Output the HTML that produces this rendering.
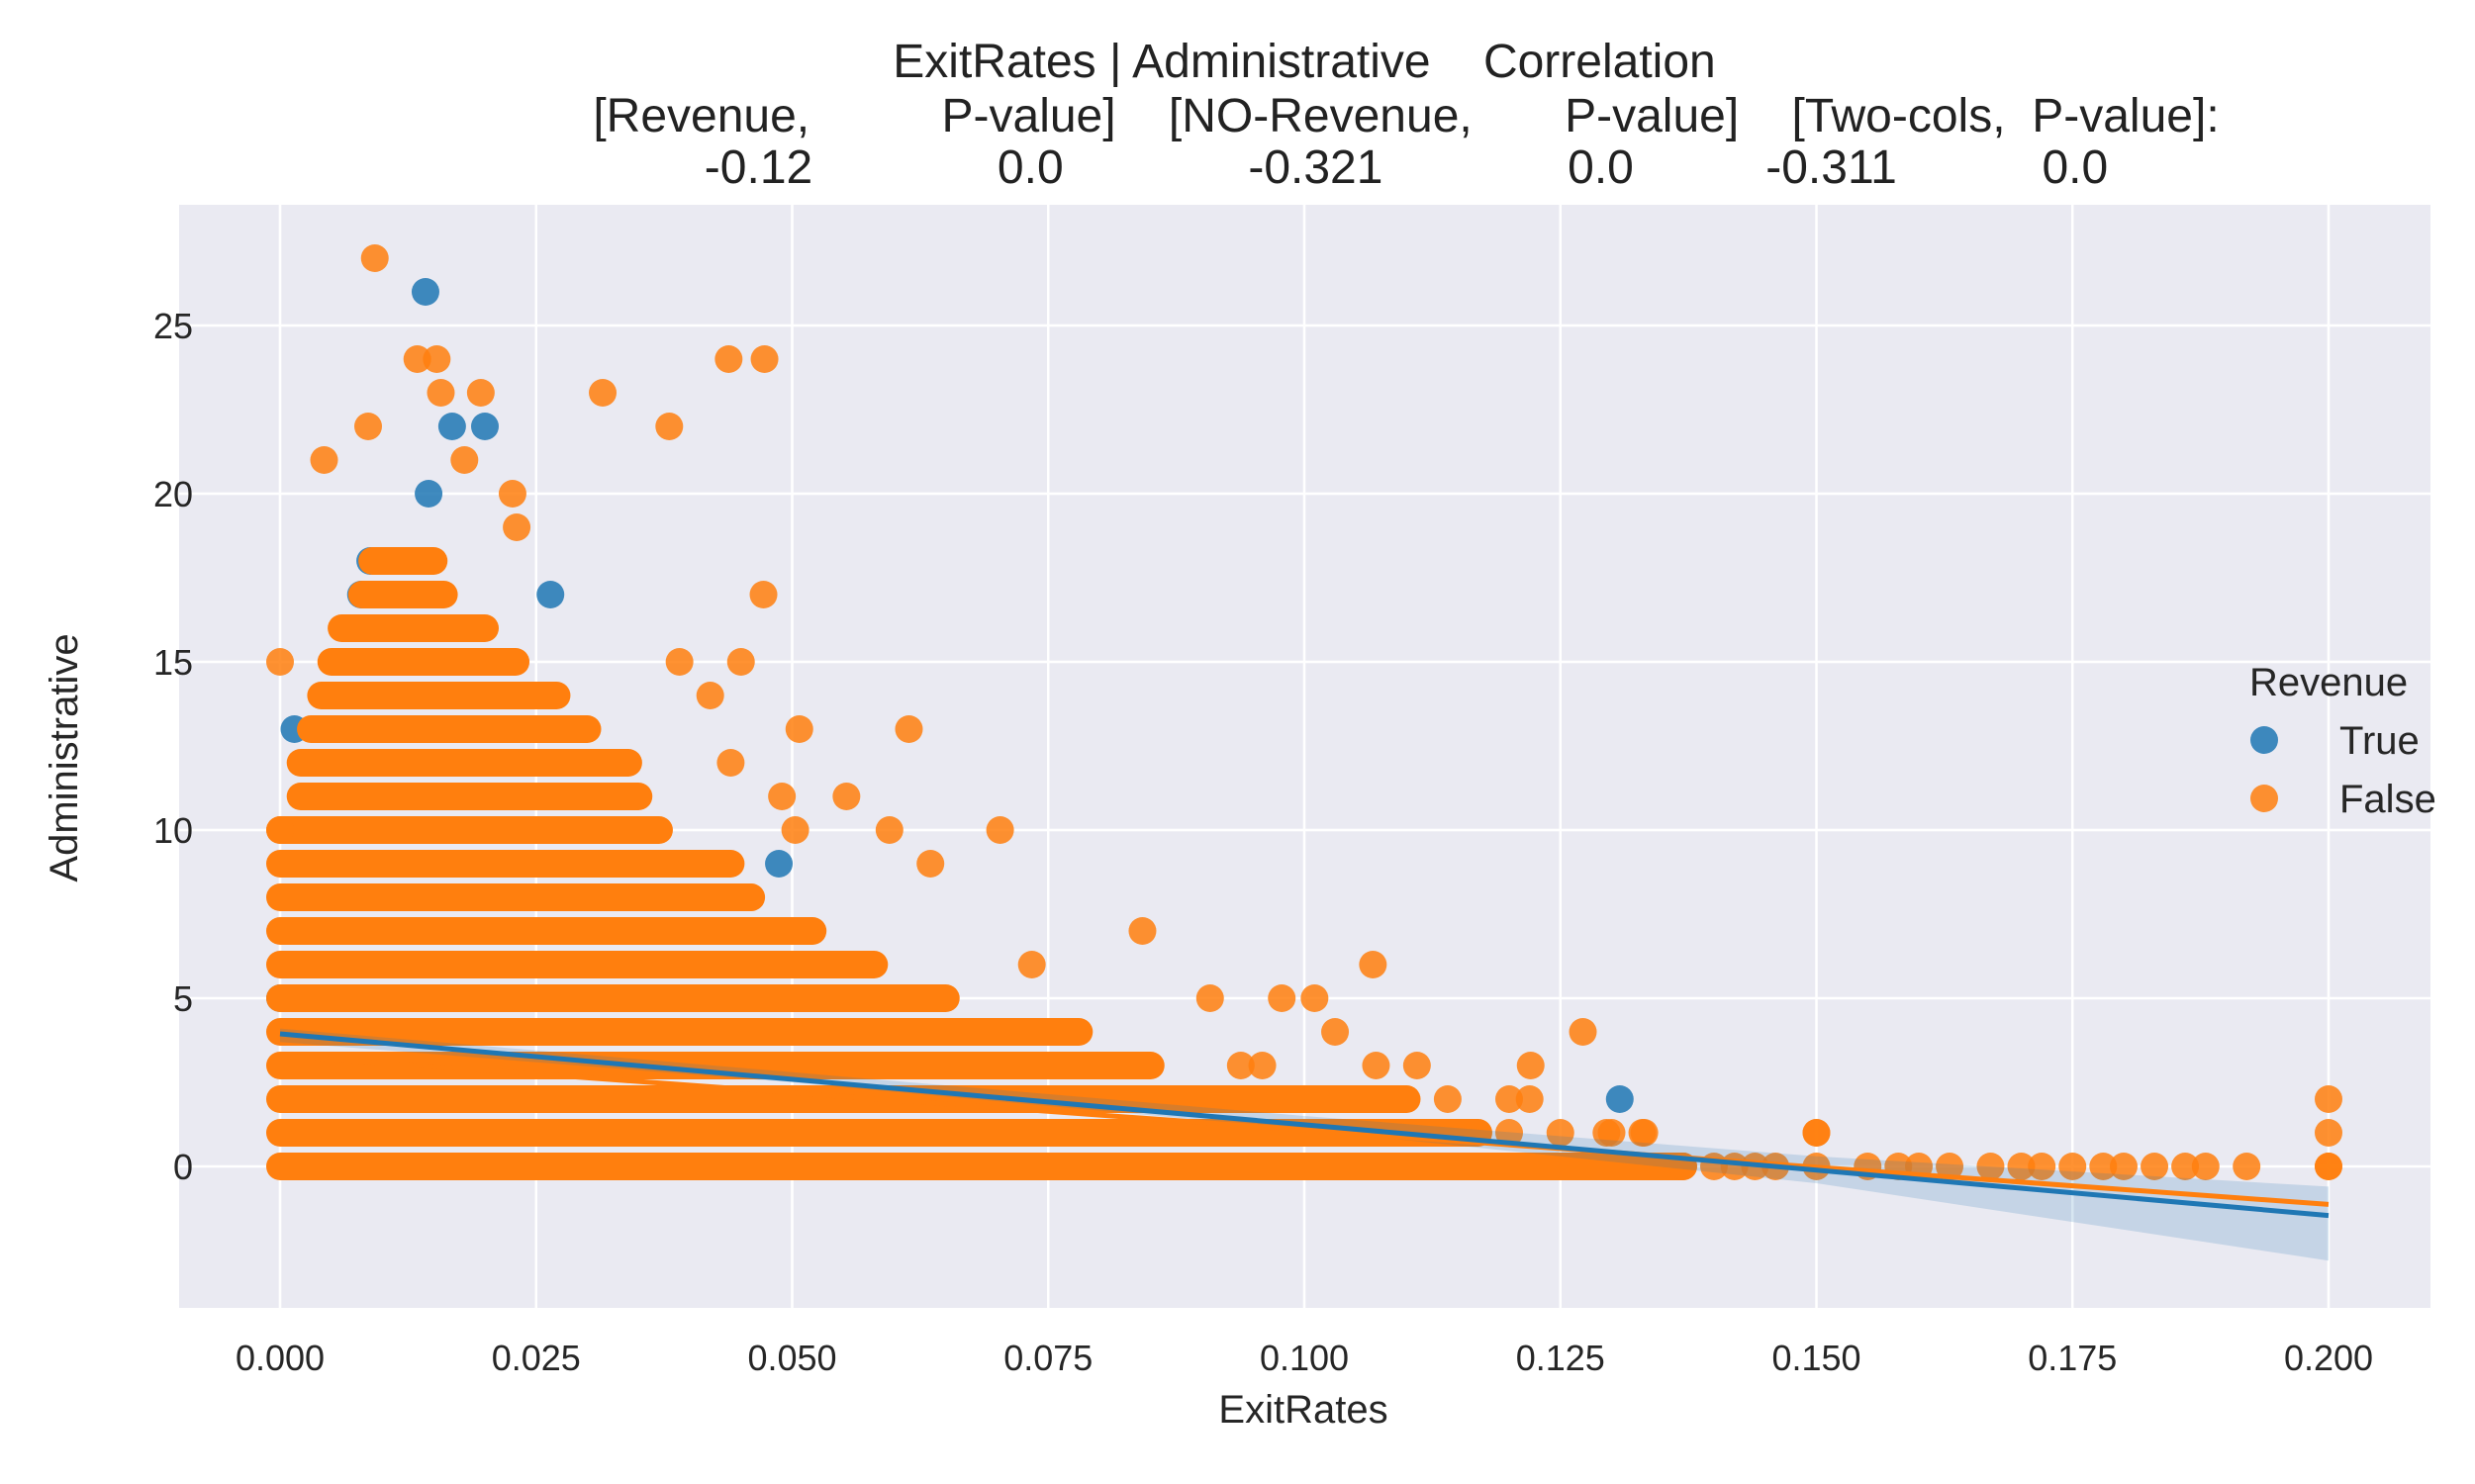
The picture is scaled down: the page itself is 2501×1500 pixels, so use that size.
<!DOCTYPE html>
<html><head><meta charset="utf-8"><style>body{margin:0;background:#fff}svg{display:block;font-family:"Liberation Sans",Arial,sans-serif}</style></head>
<body>
<svg id="chart" width="2501" height="1500" xmlns="http://www.w3.org/2000/svg">
<g font-size="48" fill="#222" text-anchor="middle">
<text x="1318" y="78" xml:space="preserve">ExitRates | Administrative    Correlation</text>
<text x="1421" y="133" xml:space="preserve">[Revenue,          P-value]    [NO-Revenue,       P-value]    [Two-cols,  P-value]:</text>
<text x="1401" y="185" xml:space="preserve">   -0.12              0.0              -0.321              0.0          -0.311           0.0</text>
</g>
<rect x="181" y="207" width="2275" height="1115" fill="#eaeaf2"/>
<g id="grid"></g>
<g id="marks"></g>
<g id="axes" font-size="36" fill="#262626"></g>
<text x="1317" y="1438" font-size="40" text-anchor="middle" fill="#262626">ExitRates</text>
<text x="0" y="0" transform="translate(78,766) rotate(-90)" font-size="40" text-anchor="middle" fill="#262626">Administrative</text>
<g font-size="40" fill="#262626">
<text x="2273" y="703">Revenue</text>
<circle cx="2288" cy="748" r="14" fill="#1f77b4" fill-opacity="0.85"/>
<text x="2364" y="762">True</text>
<circle cx="2288" cy="807" r="14" fill="#ff7f0e" fill-opacity="0.85"/>
<text x="2364" y="821">False</text>
</g>
</svg>
<script>
const xTicks=[0,0.025,0.05,0.075,0.1,0.125,0.15,0.175,0.2];
const xTickLabels=["0.000","0.025","0.050","0.075","0.100","0.125","0.150","0.175","0.200"];
const yTicks=[0,5,10,15,20,25];
const yTickLabels=["0","5","10","15","20","25"];
// dense bands of False points: [y, xStart, xEnd]
const falseBands=[[0,0,0.137],[1,0,0.117],[2,0,0.11],[3,0,0.085],[4,0,0.078],[5,0,0.065],[6,0,0.058],[7,0,0.052],[8,0,0.046],[9,0,0.044],[10,0,0.037],[11,0.002,0.035],[12,0.002,0.034],[13,0.003,0.03],[14,0.004,0.027],[15,0.005,0.023],[16,0.006,0.02],[17,0.008,0.016],[18,0.009,0.015]];
const falseX=[0.00925,0.0134,0.0153,0.0157,0.0196,0.0315,0.0438,0.0473,0.0043,0.0086,0.038,0.018,0.0227,0.0231,0.0472,0.0507,0.0614,0.0703,0.0503,0.0553,0.0595,0.0635,0.0842,0.0734,0.1067,0.0978,0.101,0.0908,0.103,0.1272,0.1221,0.111,0.107,0.0938,0.0959,0.2,0.2,0.15,0.1332,0.1295,0.12,0.122,0.114,0.044,0.049,0.0,0.0,0.039,0.042,0.045,0.137,0.14,0.142,0.144,0.146,0.15,0.155,0.158,0.16,0.163,0.167,0.17,0.172,0.175,0.178,0.18,0.183,0.186,0.188,0.192,0.2,0.12,0.125,0.13,0.133,0.15,0.2];
const falseY=[27,24,24,23,23,23,24,24,21,22,22,21,20,19,17,13,13,10,10,11,10,9,7,6,6,5,5,5,4,4,3,3,3,3,3,2,1,1,1,1,2,2,2,12,11,10,15,15,14,15,0,0,0,0,0,0,0,0,0,0,0,0,0,0,0,0,0,0,0,0,0,1,1,1,1,1,0];
const trueX=[0.0142,0.0145,0.0168,0.02,0.0088,0.0108,0.0079,0.0264,0.1308,0.0703,0.0014,0.0008,0.0005,0,0.0487];
const trueY=[26,20,22,22,18,18,17,17,2,4,13,9,8,5,9];
const ciX=[0,0.05,0.1,0.15,0.2];
const ciLow=[3.7,2.5,1.1,-0.5,-2.8];
const ciHigh=[4.1,2.8,1.5,0.3,-0.6];
const trueLine=[3.94,-1.46];
const falseLine=[3.3,-1.13];
const X=v=>283+v*10350, Y=v=>1179-v*34;
const NS="http://www.w3.org/2000/svg";
function mk(t,a,p){const e=document.createElementNS(NS,t);for(const k in a)e.setAttribute(k,a[k]);p.appendChild(e);return e;}
const grid=document.getElementById('grid'),marks=document.getElementById('marks'),axes=document.getElementById('axes');
xTicks.forEach((t,i)=>{const l=mk('line',{x1:X(t),x2:X(t),y1:207,y2:1322,stroke:'#fff','stroke-width':2.5},grid);


const tx=mk('text',{x:X(t),y:1385,'text-anchor':'middle'},axes);tx.textContent=xTickLabels[i];

});
yTicks.forEach((t,i)=>{const l=mk('line',{x1:181,x2:2456,y1:Y(t),y2:Y(t),stroke:'#fff','stroke-width':2.5},grid);


const tx=mk('text',{x:195,y:Y(t)+13,'text-anchor':'end'},axes);tx.textContent=yTickLabels[i];

});
const R=14;
trueX.forEach((x,i)=>{const c=mk('circle',{cx:X(x),cy:Y(trueY[i]),r:R,fill:'#1f77b4','fill-opacity':0.85},marks);

});
falseBands.forEach(b=>{const l=mk('line',{x1:X(b[1]),x2:X(b[2]),y1:Y(b[0]),y2:Y(b[0]),stroke:'#ff7f0e','stroke-width':2*R,'stroke-linecap':'round'},marks);

});
falseX.forEach((x,i)=>{const c=mk('circle',{cx:X(x),cy:Y(falseY[i]),r:R,fill:'#ff7f0e','fill-opacity':0.85},marks);

});
let d='M'+ciX.map((x,i)=>X(x)+','+Y(ciHigh[i])).join('L')+'L'+ciX.slice().reverse().map((x,i)=>X(x)+','+Y(ciLow[ciX.length-1-i])).join('L')+'Z';
const band=mk('path',{d:d,fill:'#1f77b4','fill-opacity':0.18},marks);


const fl=mk('line',{x1:X(0),x2:X(0.2),y1:Y(falseLine[0]),y2:Y(falseLine[1]),stroke:'#ff7f0e','stroke-width':5},marks);


const tl=mk('line',{x1:X(0),x2:X(0.2),y1:Y(trueLine[0]),y2:Y(trueLine[1]),stroke:'#1f77b4','stroke-width':5},marks);


</script>
</body></html>
